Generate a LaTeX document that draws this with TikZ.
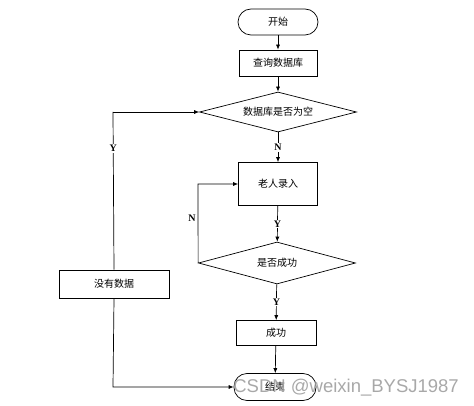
\documentclass[tikz,border=0pt]{standalone}
\usepackage{fontspec}
\setmainfont{Liberation Serif}
\newfontfamily\cjk{Noto Sans CJK SC}
\newfontfamily\markfont{Liberation Sans}
\usetikzlibrary{arrows.meta,shapes.geometric}

\begin{document}
\begin{tikzpicture}[x=1pt,y=-1pt,>={Latex[length=5pt,width=4pt]},line width=0.7pt,
  font=\cjk\fontsize{10}{12}\selectfont,
  term/.style={draw,rounded corners=13pt,minimum width=80pt,minimum height=26pt,inner sep=0pt},
  box/.style={draw,minimum width=78pt,minimum height=26pt,inner sep=0pt},
  decide/.style={draw,diamond,aspect=4,inner sep=0pt,minimum width=157pt,minimum height=40pt},
  yn/.style={font=\bfseries\fontsize{10}{12}\selectfont,fill=white,inner sep=1pt}]
  \useasboundingbox (0,0) rectangle (474,406);
  \node[term] (start) at (278,22) {开始};
  \node[box] (query) at (278,63) {查询数据库};
  \node[decide] (empty) at (278,112) {数据库是否为空};
  \node[box,minimum height=43pt,minimum width=79pt] (enter) at (278,184) {老人录入};
  \node[decide,minimum height=42pt] (ok) at (277,263) {是否成功};
  \node[box,minimum width=80pt,minimum height=25pt] (done) at (276,333) {成功};
  \node[term,minimum width=82pt,minimum height=27pt] (finish) at (275,387) {结束};
  \node[box,minimum width=110pt,minimum height=28pt] (nodata) at (114,284) {没有数据};
  \coordinate (ltop) at (113,112);
  \coordinate (lbot) at (113,387);
  \coordinate (loop) at (198,184);
  \draw[->] (start) -- (query);
  \draw[->] (query) -- (empty);
  \draw[->] (empty) -- node[yn] {N} (enter);
  \draw[->] (enter) -- node[yn] {Y} (ok);
  \draw[->] (ok) -- node[yn] {Y} (done);
  \draw[->] (done) -- (finish);
  \draw[->] (ok.west) -- node[yn,left,fill=none,xshift=-1pt,pos=0.57] {N} (loop) -- (enter.west);
  \draw (nodata.north) -- node[yn,pos=0.77] {Y} (ltop);
  \draw[->] (ltop) -- (empty.west);
  \draw[->] (nodata.south) -- (lbot) -- (finish.west);
  \node[font=\markfont\fontsize{18.5}{22}\selectfont,text=gray!75,opacity=0.9,anchor=west,inner sep=0pt] (mark) at (233,388) {CSDN @weixin\_BYSJ1987};
\end{tikzpicture}
\end{document}
